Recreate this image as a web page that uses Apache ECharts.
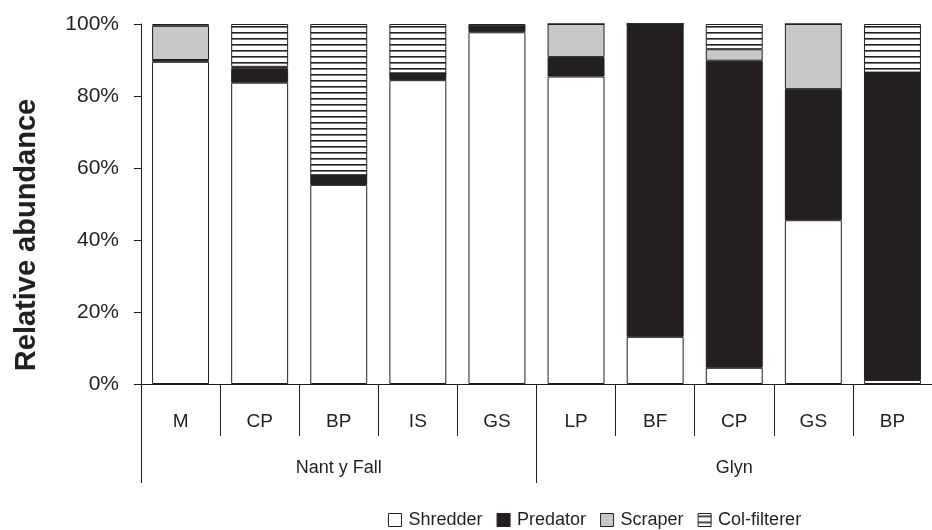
<!DOCTYPE html>
<html>
<head>
<meta charset="utf-8">
<script src="https://cdn.jsdelivr.net/npm/echarts@6/dist/echarts.min.js"></script>
<style>
html,body{margin:0;padding:0;background:#fff;}
#chart{width:932px;height:530px;}
</style>
</head>
<body>
<div id="chart"></div>
<script>
const categories = ['M', 'CP', 'BP', 'IS', 'GS', 'LP', 'BF', 'CP', 'GS', 'BP'];
const groups = ['Nant y Fall', 'Glyn'];
const shredder = [89.5, 83.7, 55.3, 84.4, 97.7, 85.4, 13.1, 4.5, 45.5, 1.1];
const predator = [0.5, 4.0, 2.7, 1.9, 1.7, 5.4, 86.9, 85.3, 36.4, 85.4];
const scraper = [9.5, 0.4, 0, 0, 0, 9.2, 0, 3.2, 18.1, 0];
const colFilterer = [0.5, 11.9, 42.0, 13.7, 0.6, 0, 0, 7.0, 0, 13.5];
const yTicks = [0, 20, 40, 60, 80, 100];

const INK = '#231f20';
const FONT = '"Liberation Sans", Arial, sans-serif';

function hatch() {
  const c = document.createElement('canvas');
  c.width = 8; c.height = 6;
  const g = c.getContext('2d');
  g.fillStyle = '#ffffff';
  g.fillRect(0, 0, 8, 6);
  g.fillStyle = INK;
  g.fillRect(0, 2, 8, 1.6);
  return c;
}

const chart = echarts.init(document.getElementById('chart'), null, {renderer: 'canvas'});

const barBase = {
  type: 'bar',
  stack: 'total',
  barCategoryGap: '28%',
  xAxisIndex: 0,
  yAxisIndex: 0
};
const border = {borderColor: INK, borderWidth: 1};

chart.setOption({
  animation: false,
  backgroundColor: '#ffffff',
  grid: {left: 141, right: -9, top: 24, bottom: 146, containLabel: false},
  legend: {
    left: 383,
    top: 506,
    icon: 'rect',
    itemWidth: 13,
    itemHeight: 13,
    itemGap: 14,
    itemStyle: {borderColor: INK, borderWidth: 1},
    textStyle: {fontFamily: FONT, fontSize: 18, color: INK, padding: [0, 0, 0, 2]},
    data: ['Shredder', 'Predator', 'Scraper', 'Col-filterer']
  },
  xAxis: [
    {
      type: 'category',
      data: categories,
      position: 'bottom',
      axisLine: {show: true, lineStyle: {color: INK, width: 1}},
      axisTick: {show: true, interval: 0, length: 52, lineStyle: {color: INK, width: 1}},
      axisLabel: {interval: 0, margin: 28, fontFamily: FONT, fontSize: 19, color: INK}
    },
    {
      type: 'category',
      data: groups,
      position: 'bottom',
      axisLine: {show: false},
      axisTick: {show: true, interval: 0, length: 99, lineStyle: {color: INK, width: 1}},
      axisLabel: {interval: 0, margin: 75, fontFamily: FONT, fontSize: 18, color: INK}
    }
  ],
  yAxis: {
    type: 'value',
    min: yTicks[0],
    max: yTicks[yTicks.length - 1],
    interval: 20,
    name: 'Relative abundance',
    nameLocation: 'middle',
    nameGap: 100,
    nameTextStyle: {fontFamily: FONT, fontSize: 29, fontWeight: 'bold', color: INK, padding: [0, 62, 0, 0]},
    axisLine: {show: true, lineStyle: {color: INK, width: 1}},
    axisTick: {show: true, length: 7, lineStyle: {color: INK}},
    splitLine: {show: false},
    axisLabel: {margin: 22, fontFamily: FONT, fontSize: 21, color: INK, formatter: '{value}%'}
  },
  series: [
    Object.assign({}, barBase, {name: 'Shredder', data: shredder, itemStyle: Object.assign({color: '#ffffff'}, border)}),
    Object.assign({}, barBase, {name: 'Predator', data: predator, itemStyle: Object.assign({color: INK}, border)}),
    Object.assign({}, barBase, {name: 'Scraper', data: scraper, itemStyle: Object.assign({color: '#c7c8ca'}, border)}),
    Object.assign({}, barBase, {name: 'Col-filterer', data: colFilterer, itemStyle: Object.assign({color: {image: hatch(), repeat: 'repeat'}}, border)})
  ]
});
</script>
</body>
</html>
